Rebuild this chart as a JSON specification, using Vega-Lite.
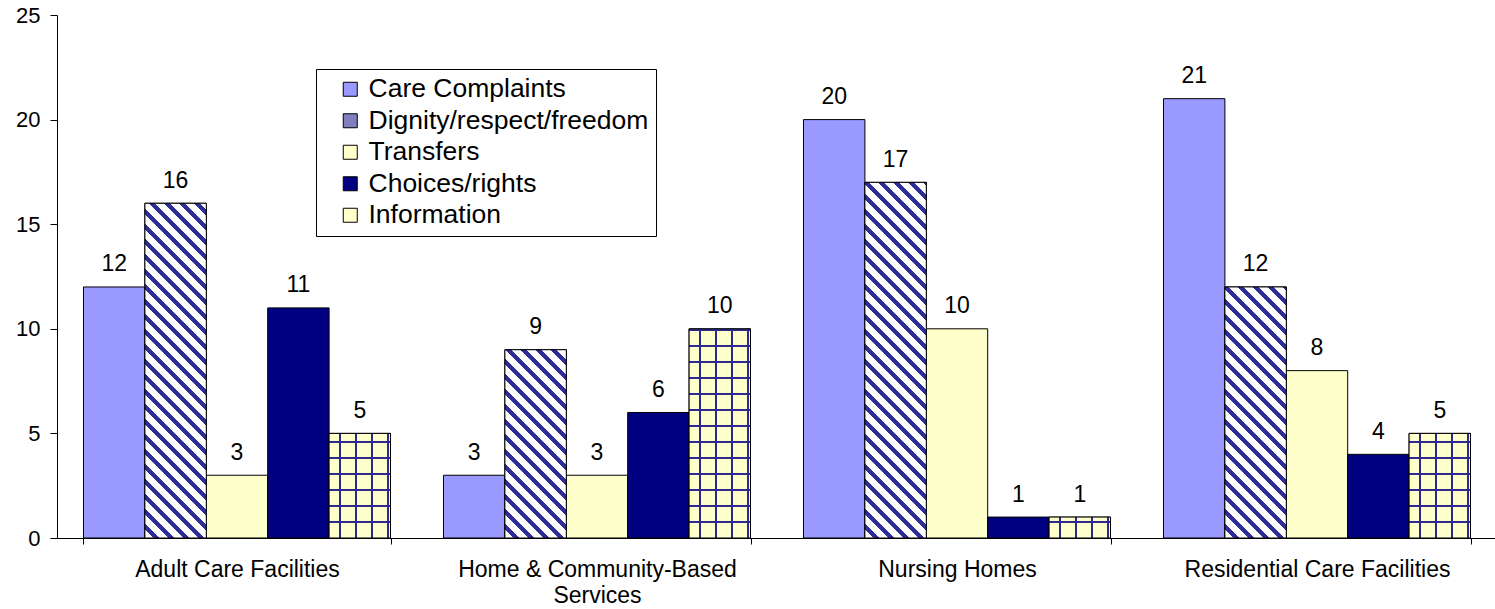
{
  "$schema": "https://vega.github.io/schema/vega-lite/v6.json",
  "width": 1440,
  "height": 523,
  "autosize": {"type": "none"},
  "padding": {"left": 57, "top": 15, "right": 0, "bottom": 71},
  "background": "white",
  "config": {
    "view": {"stroke": null},
    "font": "Liberation Sans",
    "axis": {"labelFont": "Liberation Sans", "labelColor": "black", "domainColor": "black", "tickColor": "black", "grid": false},
    "legend": {"labelFont": "Liberation Sans"}
  },
  "params": [
    {"name": "stripeStops", "value": [
      {"offset":0,"color":"#FFFFFF"},{"offset":0.015,"color":"#FFFFFF"},{"offset":0.015,"color":"#2E2E96"},{"offset":0.025,"color":"#2E2E96"},
      {"offset":0.025,"color":"#FFFFFF"},{"offset":0.04,"color":"#FFFFFF"},{"offset":0.04,"color":"#2E2E96"},{"offset":0.05,"color":"#2E2E96"},
      {"offset":0.05,"color":"#FFFFFF"},{"offset":0.065,"color":"#FFFFFF"},{"offset":0.065,"color":"#2E2E96"},{"offset":0.075,"color":"#2E2E96"},
      {"offset":0.075,"color":"#FFFFFF"},{"offset":0.09,"color":"#FFFFFF"},{"offset":0.09,"color":"#2E2E96"},{"offset":0.1,"color":"#2E2E96"},
      {"offset":0.1,"color":"#FFFFFF"},{"offset":0.115,"color":"#FFFFFF"},{"offset":0.115,"color":"#2E2E96"},{"offset":0.125,"color":"#2E2E96"},
      {"offset":0.125,"color":"#FFFFFF"},{"offset":0.14,"color":"#FFFFFF"},{"offset":0.14,"color":"#2E2E96"},{"offset":0.15,"color":"#2E2E96"},
      {"offset":0.15,"color":"#FFFFFF"},{"offset":0.165,"color":"#FFFFFF"},{"offset":0.165,"color":"#2E2E96"},{"offset":0.175,"color":"#2E2E96"},
      {"offset":0.175,"color":"#FFFFFF"},{"offset":0.19,"color":"#FFFFFF"},{"offset":0.19,"color":"#2E2E96"},{"offset":0.2,"color":"#2E2E96"},
      {"offset":0.2,"color":"#FFFFFF"},{"offset":0.215,"color":"#FFFFFF"},{"offset":0.215,"color":"#2E2E96"},{"offset":0.225,"color":"#2E2E96"},
      {"offset":0.225,"color":"#FFFFFF"},{"offset":0.24,"color":"#FFFFFF"},{"offset":0.24,"color":"#2E2E96"},{"offset":0.25,"color":"#2E2E96"},
      {"offset":0.25,"color":"#FFFFFF"},{"offset":0.265,"color":"#FFFFFF"},{"offset":0.265,"color":"#2E2E96"},{"offset":0.275,"color":"#2E2E96"},
      {"offset":0.275,"color":"#FFFFFF"},{"offset":0.29,"color":"#FFFFFF"},{"offset":0.29,"color":"#2E2E96"},{"offset":0.3,"color":"#2E2E96"},
      {"offset":0.3,"color":"#FFFFFF"},{"offset":0.315,"color":"#FFFFFF"},{"offset":0.315,"color":"#2E2E96"},{"offset":0.325,"color":"#2E2E96"},
      {"offset":0.325,"color":"#FFFFFF"},{"offset":0.34,"color":"#FFFFFF"},{"offset":0.34,"color":"#2E2E96"},{"offset":0.35,"color":"#2E2E96"},
      {"offset":0.35,"color":"#FFFFFF"},{"offset":0.365,"color":"#FFFFFF"},{"offset":0.365,"color":"#2E2E96"},{"offset":0.375,"color":"#2E2E96"},
      {"offset":0.375,"color":"#FFFFFF"},{"offset":0.39,"color":"#FFFFFF"},{"offset":0.39,"color":"#2E2E96"},{"offset":0.4,"color":"#2E2E96"},
      {"offset":0.4,"color":"#FFFFFF"},{"offset":0.415,"color":"#FFFFFF"},{"offset":0.415,"color":"#2E2E96"},{"offset":0.425,"color":"#2E2E96"},
      {"offset":0.425,"color":"#FFFFFF"},{"offset":0.44,"color":"#FFFFFF"},{"offset":0.44,"color":"#2E2E96"},{"offset":0.45,"color":"#2E2E96"},
      {"offset":0.45,"color":"#FFFFFF"},{"offset":0.465,"color":"#FFFFFF"},{"offset":0.465,"color":"#2E2E96"},{"offset":0.475,"color":"#2E2E96"},
      {"offset":0.475,"color":"#FFFFFF"},{"offset":0.49,"color":"#FFFFFF"},{"offset":0.49,"color":"#2E2E96"},{"offset":0.5,"color":"#2E2E96"},
      {"offset":0.5,"color":"#FFFFFF"},{"offset":0.515,"color":"#FFFFFF"},{"offset":0.515,"color":"#2E2E96"},{"offset":0.525,"color":"#2E2E96"},
      {"offset":0.525,"color":"#FFFFFF"},{"offset":0.54,"color":"#FFFFFF"},{"offset":0.54,"color":"#2E2E96"},{"offset":0.55,"color":"#2E2E96"},
      {"offset":0.55,"color":"#FFFFFF"},{"offset":0.565,"color":"#FFFFFF"},{"offset":0.565,"color":"#2E2E96"},{"offset":0.575,"color":"#2E2E96"},
      {"offset":0.575,"color":"#FFFFFF"},{"offset":0.59,"color":"#FFFFFF"},{"offset":0.59,"color":"#2E2E96"},{"offset":0.6,"color":"#2E2E96"},
      {"offset":0.6,"color":"#FFFFFF"},{"offset":0.615,"color":"#FFFFFF"},{"offset":0.615,"color":"#2E2E96"},{"offset":0.625,"color":"#2E2E96"},
      {"offset":0.625,"color":"#FFFFFF"},{"offset":0.64,"color":"#FFFFFF"},{"offset":0.64,"color":"#2E2E96"},{"offset":0.65,"color":"#2E2E96"},
      {"offset":0.65,"color":"#FFFFFF"},{"offset":0.665,"color":"#FFFFFF"},{"offset":0.665,"color":"#2E2E96"},{"offset":0.675,"color":"#2E2E96"},
      {"offset":0.675,"color":"#FFFFFF"},{"offset":0.69,"color":"#FFFFFF"},{"offset":0.69,"color":"#2E2E96"},{"offset":0.7,"color":"#2E2E96"},
      {"offset":0.7,"color":"#FFFFFF"},{"offset":0.715,"color":"#FFFFFF"},{"offset":0.715,"color":"#2E2E96"},{"offset":0.725,"color":"#2E2E96"},
      {"offset":0.725,"color":"#FFFFFF"},{"offset":0.74,"color":"#FFFFFF"},{"offset":0.74,"color":"#2E2E96"},{"offset":0.75,"color":"#2E2E96"},
      {"offset":0.75,"color":"#FFFFFF"},{"offset":1,"color":"#FFFFFF"}
    ]},
    {"name": "gridStops", "value": [
      {"offset":0,"color":"rgba(0,0,0,0)"},
      {"offset":0.0617,"color":"rgba(0,0,0,0)"},{"offset":0.0617,"color":"#2A2A90"},{"offset":0.0717,"color":"#2A2A90"},{"offset":0.0717,"color":"rgba(0,0,0,0)"},
      {"offset":0.1283,"color":"rgba(0,0,0,0)"},{"offset":0.1283,"color":"#2A2A90"},{"offset":0.1383,"color":"#2A2A90"},{"offset":0.1383,"color":"rgba(0,0,0,0)"},
      {"offset":0.195,"color":"rgba(0,0,0,0)"},{"offset":0.195,"color":"#2A2A90"},{"offset":0.205,"color":"#2A2A90"},{"offset":0.205,"color":"rgba(0,0,0,0)"},
      {"offset":0.2617,"color":"rgba(0,0,0,0)"},{"offset":0.2617,"color":"#2A2A90"},{"offset":0.2717,"color":"#2A2A90"},{"offset":0.2717,"color":"rgba(0,0,0,0)"},
      {"offset":0.3283,"color":"rgba(0,0,0,0)"},{"offset":0.3283,"color":"#2A2A90"},{"offset":0.3383,"color":"#2A2A90"},{"offset":0.3383,"color":"rgba(0,0,0,0)"},
      {"offset":0.395,"color":"rgba(0,0,0,0)"},{"offset":0.395,"color":"#2A2A90"},{"offset":0.405,"color":"#2A2A90"},{"offset":0.405,"color":"rgba(0,0,0,0)"},
      {"offset":0.4617,"color":"rgba(0,0,0,0)"},{"offset":0.4617,"color":"#2A2A90"},{"offset":0.4717,"color":"#2A2A90"},{"offset":0.4717,"color":"rgba(0,0,0,0)"},
      {"offset":0.5283,"color":"rgba(0,0,0,0)"},{"offset":0.5283,"color":"#2A2A90"},{"offset":0.5383,"color":"#2A2A90"},{"offset":0.5383,"color":"rgba(0,0,0,0)"},
      {"offset":0.595,"color":"rgba(0,0,0,0)"},{"offset":0.595,"color":"#2A2A90"},{"offset":0.605,"color":"#2A2A90"},{"offset":0.605,"color":"rgba(0,0,0,0)"},
      {"offset":0.6617,"color":"rgba(0,0,0,0)"},{"offset":0.6617,"color":"#2A2A90"},{"offset":0.6717,"color":"#2A2A90"},{"offset":0.6717,"color":"rgba(0,0,0,0)"},
      {"offset":0.7283,"color":"rgba(0,0,0,0)"},{"offset":0.7283,"color":"#2A2A90"},{"offset":0.7383,"color":"#2A2A90"},{"offset":0.7383,"color":"rgba(0,0,0,0)"},
      {"offset":0.795,"color":"rgba(0,0,0,0)"},{"offset":0.795,"color":"#2A2A90"},{"offset":0.805,"color":"#2A2A90"},{"offset":0.805,"color":"rgba(0,0,0,0)"},
      {"offset":0.8617,"color":"rgba(0,0,0,0)"},{"offset":0.8617,"color":"#2A2A90"},{"offset":0.8717,"color":"#2A2A90"},{"offset":0.8717,"color":"rgba(0,0,0,0)"},
      {"offset":0.9283,"color":"rgba(0,0,0,0)"},{"offset":0.9283,"color":"#2A2A90"},{"offset":0.9383,"color":"#2A2A90"},{"offset":0.9383,"color":"rgba(0,0,0,0)"},
      {"offset":1,"color":"rgba(0,0,0,0)"}
    ]}
  ],
  "data": {"values": [
    {"facility": "Adult Care Facilities", "series": "Care Complaints", "count": 12},
    {"facility": "Adult Care Facilities", "series": "Dignity/respect/freedom", "count": 16},
    {"facility": "Adult Care Facilities", "series": "Transfers", "count": 3},
    {"facility": "Adult Care Facilities", "series": "Choices/rights", "count": 11},
    {"facility": "Adult Care Facilities", "series": "Information", "count": 5},
    {"facility": "Home & Community-Based Services", "series": "Care Complaints", "count": 3},
    {"facility": "Home & Community-Based Services", "series": "Dignity/respect/freedom", "count": 9},
    {"facility": "Home & Community-Based Services", "series": "Transfers", "count": 3},
    {"facility": "Home & Community-Based Services", "series": "Choices/rights", "count": 6},
    {"facility": "Home & Community-Based Services", "series": "Information", "count": 10},
    {"facility": "Nursing Homes", "series": "Care Complaints", "count": 20},
    {"facility": "Nursing Homes", "series": "Dignity/respect/freedom", "count": 17},
    {"facility": "Nursing Homes", "series": "Transfers", "count": 10},
    {"facility": "Nursing Homes", "series": "Choices/rights", "count": 1},
    {"facility": "Nursing Homes", "series": "Information", "count": 1},
    {"facility": "Residential Care Facilities", "series": "Care Complaints", "count": 21},
    {"facility": "Residential Care Facilities", "series": "Dignity/respect/freedom", "count": 12},
    {"facility": "Residential Care Facilities", "series": "Transfers", "count": 8},
    {"facility": "Residential Care Facilities", "series": "Choices/rights", "count": 4},
    {"facility": "Residential Care Facilities", "series": "Information", "count": 5}
  ]},
  "encoding": {
    "x": {
      "field": "facility", "type": "nominal", "title": null,
      "scale": {"domain": ["Adult Care Facilities", "Home & Community-Based Services", "Nursing Homes", "Residential Care Facilities"], "paddingInner": 0.1472, "paddingOuter": 0.0736},
      "axis": {"labelAngle": 0, "labelFontSize": 23, "tickBand": "extent", "tickSize": 6, "labelPadding": 14, "labelLineHeight": 26.5, "labelLimit": 0,
        "labelExpr": "datum.value == 'Home & Community-Based Services' ? ['Home & Community-Based', 'Services'] : datum.value"}
    },
    "xOffset": {
      "field": "series", "type": "nominal",
      "scale": {"domain": ["Care Complaints", "Dignity/respect/freedom", "Transfers", "Choices/rights", "Information"], "paddingInner": 0, "paddingOuter": 0}
    },
    "y": {
      "field": "count", "type": "quantitative", "title": null,
      "scale": {"domain": [0, 25], "nice": false},
      "axis": {"values": [0, 5, 10, 15, 20, 25], "labelFontSize": 22, "tickSize": 7, "labelPadding": 10}
    }
  },
  "layer": [
    {
      "mark": {"type": "bar", "stroke": "black", "strokeWidth": 1},
      "encoding": {
        "color": {
          "field": "series", "type": "nominal",
          "scale": {"domain": ["Care Complaints", "Dignity/respect/freedom", "Transfers", "Choices/rights", "Information"], "range": ["#9999FF", "#8080C0", "#FFFFCC", "#000080", "#FFFFCC"]},
          "legend": {"orient": "none", "legendX": 259, "legendY": 54, "title": null, "labelFontSize": 26.5, "labelColor": "black", "labelLimit": 0,
            "symbolType": "square", "symbolSize": 196, "symbolStrokeColor": "black", "symbolStrokeWidth": 1,
            "strokeColor": "black", "fillColor": "white", "padding": 7, "rowPadding": 4.5, "symbolOffset": 14, "labelOffset": 5}
        }
      }
    },
    {
      "transform": [{"filter": "datum.series == 'Dignity/respect/freedom'"}],
      "mark": {"type": "bar", "stroke": "black", "strokeWidth": 1,
        "fill": {"expr": "{gradient: 'linear', x1: 0, y1: 1, x2: 600*61.4/(61.4*61.4 + pow(datum.count*20.92, 2)), y2: 1 - 600*datum.count*20.92/(61.4*61.4 + pow(datum.count*20.92, 2)), stops: stripeStops}"}}
    },
    {
      "transform": [{"filter": "datum.series == 'Information'"}],
      "mark": {"type": "bar", "strokeWidth": 0,
        "fill": {"gradient": "linear", "x1": 0, "y1": 0, "x2": 1, "y2": 0, "stops": [
          {"offset":0,"color":"#FFFFCC"},{"offset":0.159,"color":"#FFFFCC"},{"offset":0.159,"color":"#2A2A90"},{"offset":0.199,"color":"#2A2A90"},
          {"offset":0.199,"color":"#FFFFCC"},{"offset":0.42,"color":"#FFFFCC"},{"offset":0.42,"color":"#2A2A90"},{"offset":0.46,"color":"#2A2A90"},
          {"offset":0.46,"color":"#FFFFCC"},{"offset":0.68,"color":"#FFFFCC"},{"offset":0.68,"color":"#2A2A90"},{"offset":0.72,"color":"#2A2A90"},
          {"offset":0.72,"color":"#FFFFCC"},{"offset":0.942,"color":"#FFFFCC"},{"offset":0.942,"color":"#2A2A90"},{"offset":0.982,"color":"#2A2A90"},
          {"offset":0.982,"color":"#FFFFCC"},{"offset":1,"color":"#FFFFCC"}]}}
    },
    {
      "transform": [{"filter": "datum.series == 'Information'"}],
      "mark": {"type": "bar", "stroke": "black", "strokeWidth": 1,
        "fill": {"expr": "{gradient: 'linear', x1: 0, y1: 1, x2: 0, y2: 1 - 240/(datum.count*20.92), stops: gridStops}"}}
    },
    {
      "mark": {"type": "text", "baseline": "alphabetic", "dy": -15.5, "fontSize": 23, "font": "Liberation Sans", "color": "black", "align": "center"},
      "encoding": {"text": {"field": "count", "type": "quantitative"}}
    }
  ]
}
